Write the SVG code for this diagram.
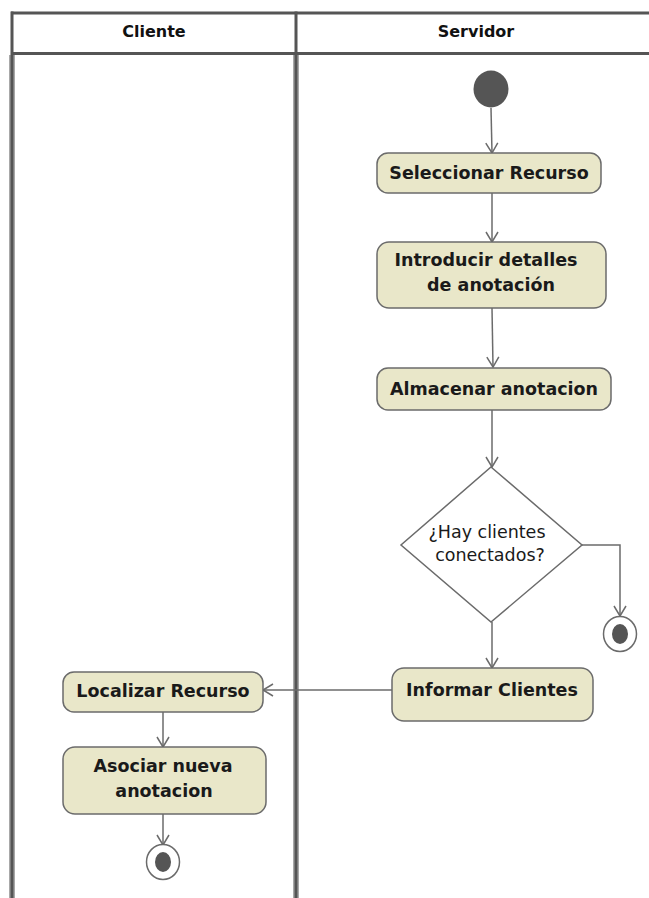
<svg xmlns="http://www.w3.org/2000/svg" width="649" height="898" viewBox="0 0 649 898">
  <style>
    .frame { fill: none; stroke: #555; stroke-width: 3; }
    .halo { fill: none; stroke: #a8a8a8; stroke-width: 6; }
    .hdr { font-family: "DejaVu Sans", "Liberation Sans", sans-serif; font-weight: bold; font-size: 16px; fill: #111; text-anchor: middle; }
    .act rect { fill: #e9e7c9; stroke: #6b6b6b; stroke-width: 1.5; }
    .act text { font-family: "DejaVu Sans", "Liberation Sans", sans-serif; font-weight: bold; font-size: 17.5px; fill: #1a1a1a; text-anchor: middle; }
    .dec polygon { fill: #fff; stroke: #6b6b6b; stroke-width: 1.5; }
    .dec text { font-family: "DejaVu Sans", "Liberation Sans", sans-serif; font-size: 17.5px; fill: #1a1a1a; text-anchor: middle; }
    .edge { fill: none; stroke: #6b6b6b; stroke-width: 1.5; marker-end: url(#open); }
    .dot { fill: #555; }
    .ring { fill: #fff; stroke: #6b6b6b; stroke-width: 1.5; }
  </style>
  <defs>
    <marker id="open" markerUnits="userSpaceOnUse" markerWidth="14" markerHeight="14" refX="11" refY="6" orient="auto" overflow="visible">
      <path d="M1,0 L11,6 L1,12" fill="none" stroke="#6b6b6b" stroke-width="1.5"/>
    </marker>
  </defs>

  <rect width="649" height="898" fill="#fff"/>

  <!-- swimlane frame -->
  <g id="lanes">
    <line class="halo" x1="12" y1="55" x2="12" y2="898"/>
    <line class="halo" x1="296" y1="55" x2="296" y2="898"/>
    <line class="frame" x1="11" y1="13" x2="649" y2="13"/>
    <line class="frame" x1="11" y1="53.5" x2="649" y2="53.5"/>
    <line class="frame" x1="12" y1="11.5" x2="12" y2="898"/>
    <line class="frame" x1="296" y1="11.5" x2="296" y2="898"/>
    <text class="hdr" x="154" y="37">Cliente</text>
    <text class="hdr" x="476" y="37">Servidor</text>
  </g>

  <!-- control flow -->
  <g id="connectors">
    <path class="edge" d="M491,108 L492,153"/>
    <path class="edge" d="M492,193 L492,242"/>
    <path class="edge" d="M492,308 L493,367"/>
    <path class="edge" d="M492,410 L492,467"/>
    <path class="edge" d="M582,545 L620,545 L620,616"/>
    <path class="edge" d="M492,622 L492,668"/>
    <path class="edge" d="M392,690 L263,690"/>
    <path class="edge" d="M163,712 L163,747"/>
    <path class="edge" d="M163,814 L163,845"/>
  </g>

  <g id="start">
    <ellipse class="dot" cx="491" cy="89" rx="17.5" ry="18.5"/>
  </g>

  <g id="seleccionar" class="act">
    <rect x="377" y="153" width="224" height="40" rx="11"/>
    <text x="489" y="179">Seleccionar Recurso</text>
  </g>

  <g id="introducir" class="act">
    <rect x="377" y="242" width="229" height="66" rx="12"/>
    <text x="486" y="266">Introducir detalles</text>
    <text x="491" y="291">de anotación</text>
  </g>

  <g id="almacenar" class="act">
    <rect x="377" y="368" width="234" height="42" rx="11"/>
    <text x="494" y="395">Almacenar anotacion</text>
  </g>

  <g id="hay-clientes" class="dec">
    <polygon points="491,467 582,545 491,622 401,545"/>
    <text x="487" y="538">¿Hay clientes</text>
    <text x="490" y="561">conectados?</text>
  </g>

  <g id="fin-servidor">
    <ellipse class="ring" cx="620" cy="634" rx="16.5" ry="17.5"/>
    <ellipse class="dot" cx="620" cy="634" rx="8" ry="10"/>
  </g>

  <g id="informar" class="act">
    <rect x="392" y="668" width="201" height="53" rx="12"/>
    <text x="492" y="696">Informar Clientes</text>
  </g>

  <g id="localizar" class="act">
    <rect x="63" y="672" width="200" height="40" rx="11"/>
    <text x="163" y="697">Localizar Recurso</text>
  </g>

  <g id="asociar" class="act">
    <rect x="63" y="747" width="203" height="67" rx="12"/>
    <text x="163" y="772">Asociar nueva</text>
    <text x="164" y="797">anotacion</text>
  </g>

  <g id="fin-cliente">
    <ellipse class="ring" cx="163" cy="862" rx="16.5" ry="17.5"/>
    <ellipse class="dot" cx="163" cy="862" rx="8" ry="10"/>
  </g>
</svg>
